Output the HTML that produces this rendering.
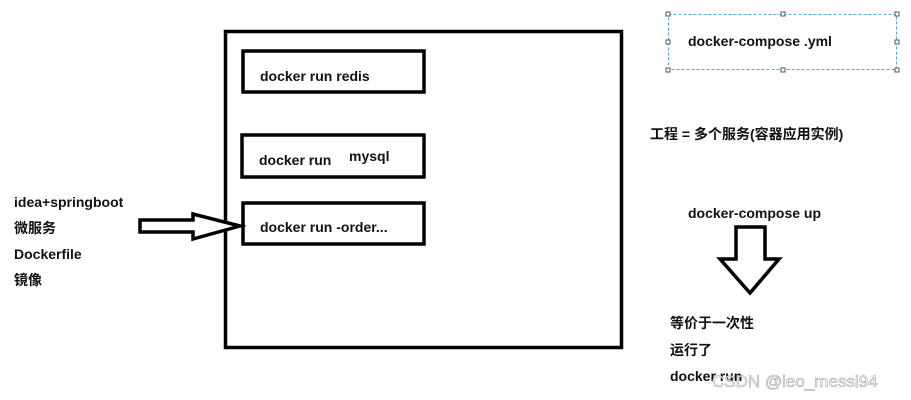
<!DOCTYPE html>
<html><head><meta charset="utf-8"><style>
html,body{margin:0;padding:0;background:#fff;}
svg{display:block;}
text{font-family:"Liberation Sans","Noto Sans CJK SC",sans-serif;font-weight:bold;font-size:14px;fill:#111;}
</style></head><body>
<svg width="911" height="400" viewBox="0 0 911 400">
<rect x="0" y="0" width="911" height="400" fill="#fff"/>
<rect x="225.5" y="31.5" width="396" height="316" fill="none" stroke="#000" stroke-width="3.5"/>
<rect x="243" y="51" width="181" height="41" fill="none" stroke="#000" stroke-width="3.5"/>
<rect x="242" y="135" width="182" height="42" fill="none" stroke="#000" stroke-width="3.5"/>
<rect x="243" y="203" width="181" height="41" fill="none" stroke="#000" stroke-width="3.5"/>
<text x="260" y="81">docker run redis</text>
<text x="259" y="165">docker run</text>
<text x="349" y="161">mysql</text>
<text x="260" y="232">docker run -order...</text>
<polygon points="140,220 193,220 193,214 240,226 193,239 193,232 140,232" fill="#fff" stroke="#000" stroke-width="3.5" stroke-linejoin="miter"/>
<text x="14" y="207">idea+springboot</text>
<text x="14" y="233">微服务</text>
<text x="14" y="259">Dockerfile</text>
<text x="14" y="285">镜像</text>
<rect x="668.5" y="14.5" width="228" height="55" fill="none" stroke="#5aa3c8" stroke-width="1" stroke-dasharray="3,2"/>
<g fill="#fff" stroke="#555" stroke-width="1">
<rect x="666" y="12" width="4" height="4"/><rect x="781" y="12" width="4" height="4"/><rect x="895" y="12" width="4" height="4"/>
<rect x="666" y="40" width="4" height="4"/><rect x="895" y="40" width="4" height="4"/>
<rect x="666" y="68" width="4" height="4"/><rect x="781" y="68" width="4" height="4"/><rect x="895" y="68" width="4" height="4"/>
</g>
<text x="688" y="46">docker-compose .yml</text>
<text x="650" y="139">工程 = 多个服务(容器应用实例)</text>
<text x="688" y="218">docker-compose up</text>
<polygon points="736,227 765,227 765,259 779,259 750,293 720,259 736,259" fill="#fff" stroke="#000" stroke-width="3.5"/>
<text x="670" y="328">等价于一次性</text>
<text x="670" y="355">运行了</text>
<text x="670" y="381">docker run</text>
<text x="712" y="387" style="font-weight:normal;font-size:17px;fill:#fff;stroke:#999;stroke-width:0.6;opacity:0.9">CSDN @leo_messi94</text>
</svg>
</body></html>
